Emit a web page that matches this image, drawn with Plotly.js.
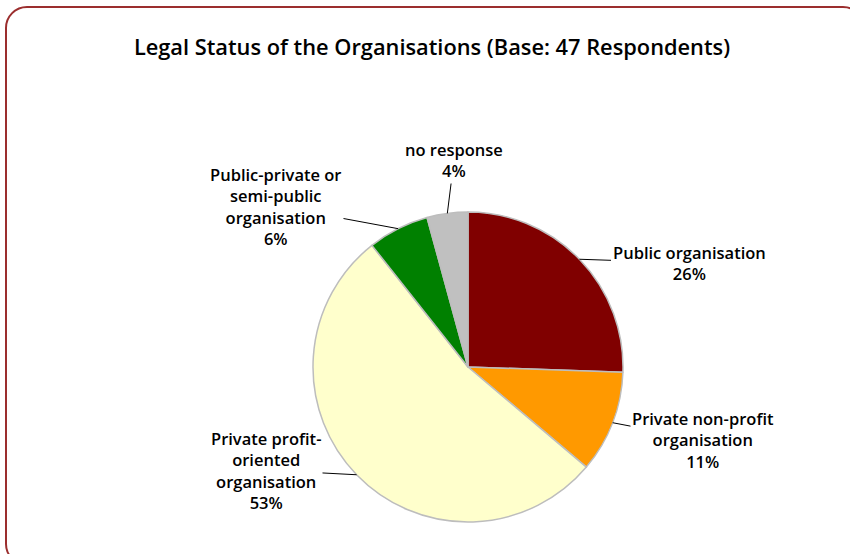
<!DOCTYPE html>
<html>
<head>
<meta charset="utf-8">
<script src="https://cdn.plot.ly/plotly-3.0.1.min.js"></script>
<style>
  html, body { margin: 0; padding: 0; width: 850px; height: 554px; overflow: hidden; background: #ffffff; }
  #frame { position: absolute; left: 5px; top: 6px; width: 860px; height: 560px;
           border: 2px solid #9B2E2E; border-radius: 22px; box-sizing: border-box; }
  #chart { position: absolute; left: 0; top: 0; width: 850px; height: 554px; }
</style>
</head>
<body>
<div id="frame"></div>
<div id="chart"></div>
<script>
// ---- data ----
const categories = ["Public organisation", "Private non-profit organisation", "Private profit-oriented organisation", "Public-private or semi-public organisation", "no response"];
const respondents = [12, 5, 25, 3, 2];            // counts out of 47
const labelLines = [
  ["Public organisation"],
  ["Private non-profit", "organisation"],
  ["Private profit-", "oriented", "organisation"],
  ["Public-private or", "semi-public", "organisation"],
  ["no response"]
];
const colors = ["#800000", "#FF9900", "#FFFFCC", "#008000", "#C0C0C0"];

// ---- layout constants (pixels) ----
const W = 850, H = 554;
const cx = 468, cy = 367, R = 155;
const labelPos = [[689, 263], [703, 440], [266, 470], [276, 206], [454, 160]];

const total = respondents.reduce((a, b) => a + b, 0);
const pct = respondents.map(v => Math.round(v / total * 100));

const trace = {
  type: "pie",
  labels: categories,
  values: respondents,
  sort: false,
  direction: "clockwise",
  rotation: 0,
  textinfo: "none",
  hoverinfo: "label+percent",
  marker: { colors: colors, line: { color: "#BDBDBD", width: 1.5 } },
  domain: { x: [(cx - R) / W, (cx + R) / W], y: [1 - (cy + R) / H, 1 - (cy - R) / H] },
  showlegend: false
};

// annotations with leader lines attached at slice mid-angle
const annotations = [];
let cum = 0;
respondents.forEach((v, i) => {
  const mid = (cum + v / 2) / total * 2 * Math.PI;
  cum += v;
  const ex = cx + R * Math.sin(mid);
  const ey = cy - R * Math.cos(mid);
  annotations.push({
    xref: "paper", yref: "paper",
    x: ex / W, y: 1 - ey / H,
    ax: labelPos[i][0] - ex, ay: labelPos[i][1] - ey,
    axref: "pixel", ayref: "pixel",
    text: labelLines[i].concat([pct[i] + "%"]).join("<br>"),
    showarrow: true, arrowhead: 0, arrowwidth: 1, arrowcolor: "#000000", standoff: 0,
    align: "center",
    font: { family: "Open Sans, Liberation Sans, sans-serif", size: 16.5, color: "#000000", weight: 600 }
  });
});

const layout = {
  width: W, height: H,
  margin: { l: 0, r: 0, t: 0, b: 0 },
  paper_bgcolor: "rgba(0,0,0,0)",
  plot_bgcolor: "rgba(0,0,0,0)",
  title: {
    text: "Legal Status of the Organisations (Base: 47 Respondents)",
    x: 432 / W, xanchor: "center", y: 1 - 47 / H, yanchor: "middle",
    font: { family: "Open Sans, Liberation Sans, sans-serif", size: 21.8, color: "#000000", weight: 600 }
  },
  annotations: annotations,
  showlegend: false
};

Plotly.newPlot("chart", [trace], layout, { displayModeBar: false, staticPlot: true });
</script>
</body>
</html>
